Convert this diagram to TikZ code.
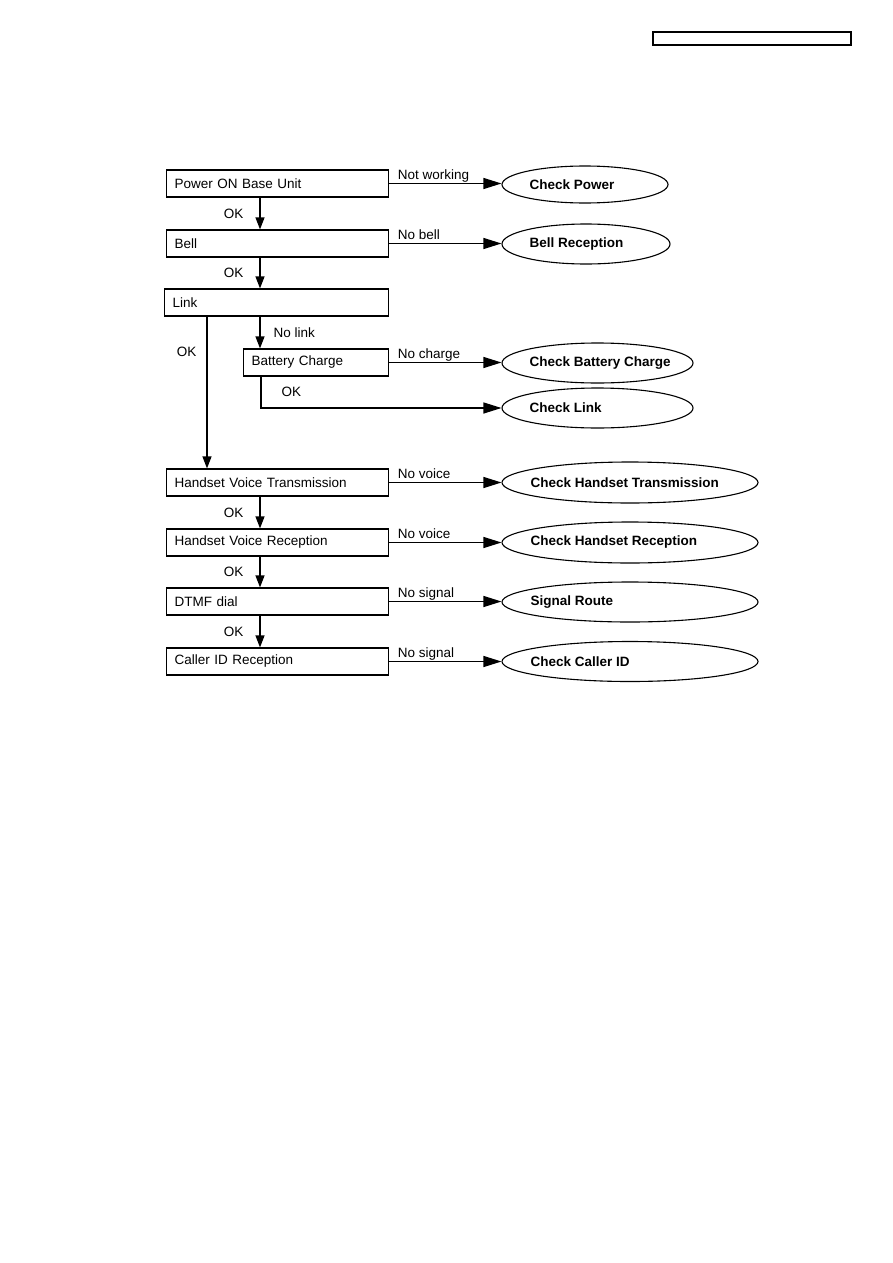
\documentclass[tikz,border=0pt]{standalone}
\usepackage{fontspec}
\setmainfont{Liberation Sans}
\usetikzlibrary{arrows.meta,positioning,shapes.geometric}

\begin{document}
\begin{tikzpicture}[
  x=1pt,y=-1pt,
  font=\fontsize{13.5}{16}\selectfont,
  stepbox/.style={draw,line width=1.2pt,anchor=west,minimum height=27pt,inner xsep=8pt,align=left},
  result/.style={ellipse,draw,line width=1.1pt,inner sep=0pt},
  restext/.style={font=\fontsize{13.5}{16}\selectfont\bfseries,inner sep=0pt},
  lbl/.style={inner sep=1pt},
  cond/.style={inner sep=0pt,anchor=base west,xshift=8pt,yshift=4pt},
  flow/.style={-{Triangle[length=12pt,width=9pt]},line width=1.2pt},
  fail/.style={-{Triangle[length=18pt,width=11pt]},line width=1.2pt}
]
  \useasboundingbox (0,0) rectangle (893,1263);
  \coordinate (spine) at (260,0);
  \coordinate (okline) at (207,0);
  \coordinate (batline) at (261,0);

  % header box
  \node[draw,line width=1.1pt,minimum width=198pt,minimum height=13pt,inner sep=0pt] (docref) at (752,38.5) {};

  % checks
  \node[stepbox,text width=206pt] (pwr) at (166,183.5) {Power ON Base Unit};
  \node[stepbox,text width=206pt] (bell) at (166,243.5) {Bell};
  \node[stepbox,text width=208pt] (link) at (164,302.5) {Link};
  \node[stepbox,text width=129pt] (bat) at (243,362.5) {Battery Charge};
  \node[stepbox,text width=206pt] (hvt) at (166,482.5) {Handset Voice Transmission};
  \node[stepbox,text width=206pt] (hvr) at (166,542.5) {Handset Voice Reception};
  \node[stepbox,text width=206pt] (dtmf) at (166,601.5) {DTMF dial};
  \node[stepbox,text width=206pt] (cid) at (166,661.5) {Caller ID Reception};

  % results
  \node[result,minimum width=166pt,minimum height=37pt] (cpow) at (585,184.5) {};
  \node[restext,right=28pt of cpow.west] (cpowt) {Check Power};
  \node[result,minimum width=168pt,minimum height=40pt] (bellr) at (586,244) {};
  \node[restext,right=28pt of bellr.west] (bellrt) {Bell Reception};
  \node[result,minimum width=191pt,minimum height=40pt] (cbat) at (597.5,363) {};
  \node[restext,right=28pt of cbat.west] (cbatt) {Check Battery Charge};
  \node[result,minimum width=191pt,minimum height=40pt] (clink) at (597.5,408) {};
  \node[restext,right=28pt of clink.west] (clinkt) {Check Link};
  \node[result,minimum width=256pt,minimum height=41pt] (chtx) at (630,482.5) {};
  \node[restext,right=29pt of chtx.west] (chtxt) {Check Handset Transmission};
  \node[result,minimum width=256pt,minimum height=41pt] (chrx) at (630,542.5) {};
  \node[restext,right=29pt of chrx.west] (chrxt) {Check Handset Reception};
  \node[result,minimum width=256pt,minimum height=40pt] (sroute) at (630,602) {};
  \node[restext,right=29pt of sroute.west] (sroutet) {Signal Route};
  \node[result,minimum width=256pt,minimum height=40pt] (ccid) at (630,661.5) {};
  \node[restext,right=29pt of ccid.west] (ccidt) {Check Caller ID};

  % OK path
  \draw[flow] (pwr.south -| spine) -- node[lbl,left=15pt] {OK} (bell.north -| spine);
  \draw[flow] (bell.south -| spine) -- node[lbl,left=15pt] {OK} (link.north -| spine);
  \draw[flow] (link.south -| okline) -- node[lbl,pos=0.23,left=9pt] {OK} (hvt.north -| okline);
  \draw[flow] (link.south -| spine) -- node[lbl,right=12pt] {No link} (bat.north -| spine);
  \draw[flow] (hvt.south -| spine) -- node[lbl,left=15pt] {OK} (hvr.north -| spine);
  \draw[flow] (hvr.south -| spine) -- node[lbl,left=15pt] {OK} (dtmf.north -| spine);
  \draw[flow] (dtmf.south -| spine) -- node[lbl,left=15pt] {OK} (cid.north -| spine);

  % fault paths
  \draw[fail] (pwr.east) -- node[cond,pos=0] {Not working} (pwr.east -| cpow.west);
  \draw[fail] (bell.east) -- node[cond,pos=0] {No bell} (bell.east -| bellr.west);
  \draw[fail] (bat.east) -- node[cond,pos=0] {No charge} (bat.east -| cbat.west);
  \draw[fail] (bat.south -| batline) |- node[lbl,pos=0.24,right=19pt] {OK} (clink.west);
  \draw[fail] (hvt.east) -- node[cond,pos=0] {No voice} (hvt.east -| chtx.west);
  \draw[fail] (hvr.east) -- node[cond,pos=0] {No voice} (hvr.east -| chrx.west);
  \draw[fail] (dtmf.east) -- node[cond,pos=0] {No signal} (dtmf.east -| sroute.west);
  \draw[fail] (cid.east) -- node[cond,pos=0] {No signal} (cid.east -| ccid.west);
\end{tikzpicture}
\end{document}
